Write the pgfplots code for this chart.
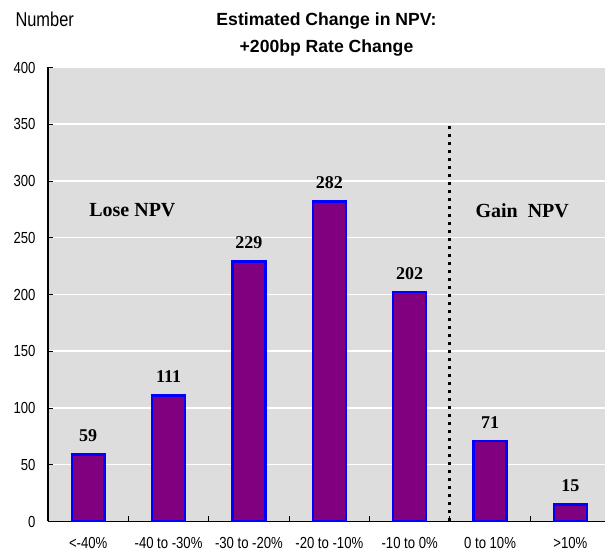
\documentclass[border=0pt]{standalone}
\usepackage{fontspec}
\setmainfont{Liberation Sans}
\newfontfamily\narrowsf[FakeStretch=0.82]{Liberation Sans}
\newfontfamily\serifb{Liberation Serif}
\usepackage{pgfplots}
\pgfplotsset{compat=1.18}
\definecolor{barpurple}{RGB}{128,0,128}
\definecolor{bggray}{RGB}{221,221,221}

\begin{document}
\begin{tikzpicture}
\begin{axis}[
  name=ax,
  scale only axis,
  width=557pt, height=454pt,
  xmin=-0.5, xmax=6.43,
  ymin=0, ymax=400,
  ytick={0,50,...,400},
  xtick={0.5,1.5,...,5.5},
  xticklabels={},
  extra x ticks={0,1,2,3,4,5,6},
  extra x tick labels={{<-40\%},{-40 to -30\%},{-30 to -20\%},{-20 to -10\%},{-10 to 0\%},{0 to 10\%},{>10\%}},
  extra x tick style={major tick length=0pt},
  axis x line=bottom, axis y line=left,
  x axis line style={-}, y axis line style={-},
  axis line style={line width=1.3pt, black},
  tick align=inside,
  major tick length=5pt,
  tick style={black, line width=0.8pt},
  ymajorgrids,
  grid style={white, line width=1.5pt},
  axis background/.style={fill=bggray},
  /pgf/number format/assume math mode=true,
  tick label style={font=\narrowsf\fontsize{16}{18}\selectfont},
  xticklabel style={yshift=-12pt},
  yticklabel style={xshift=-9pt},
  title={Estimated Change in NPV:\\+200bp Rate Change},
  title style={font=\bfseries\fontsize{17.6}{27}\selectfont, align=center,
    at={(axis description cs:0.5,1)}, anchor=south, yshift=2pt},
  ylabel={Number},
  every axis y label/.style={at={(axis description cs:0,1)}, anchor=base west,
    xshift=-36pt, yshift=40.5pt, font=\narrowsf\fontsize{20}{22}\selectfont},
]
\addplot[ybar, bar width=0.41, fill=barpurple, draw=blue, line width=2.4pt,
  nodes near coords,
  every node near coord/.append style={font=\serifb\bfseries\fontsize{18}{20}\selectfont, black, yshift=8pt}]
  coordinates {(0,59) (1,111) (2,229) (3,282) (4,202) (5,71) (6,15)};
\addplot[black, line width=3pt, dash pattern=on 3pt off 5pt, line cap=butt, mark=none]
  coordinates {(4.5,0) (4.5,350)};
\node[font=\serifb\bfseries\fontsize{20}{24}\selectfont] at (axis cs:0.55,274) {Lose NPV};
\node[font=\serifb\bfseries\fontsize{20}{24}\selectfont] at (axis cs:5.4,274) {Gain\ \ NPV};
\end{axis}
\pgfresetboundingbox
\path ([xshift=-48pt,yshift=-34.3pt]ax.south west) rectangle ([yshift=67.5pt]ax.north east);
\end{tikzpicture}
\end{document}
